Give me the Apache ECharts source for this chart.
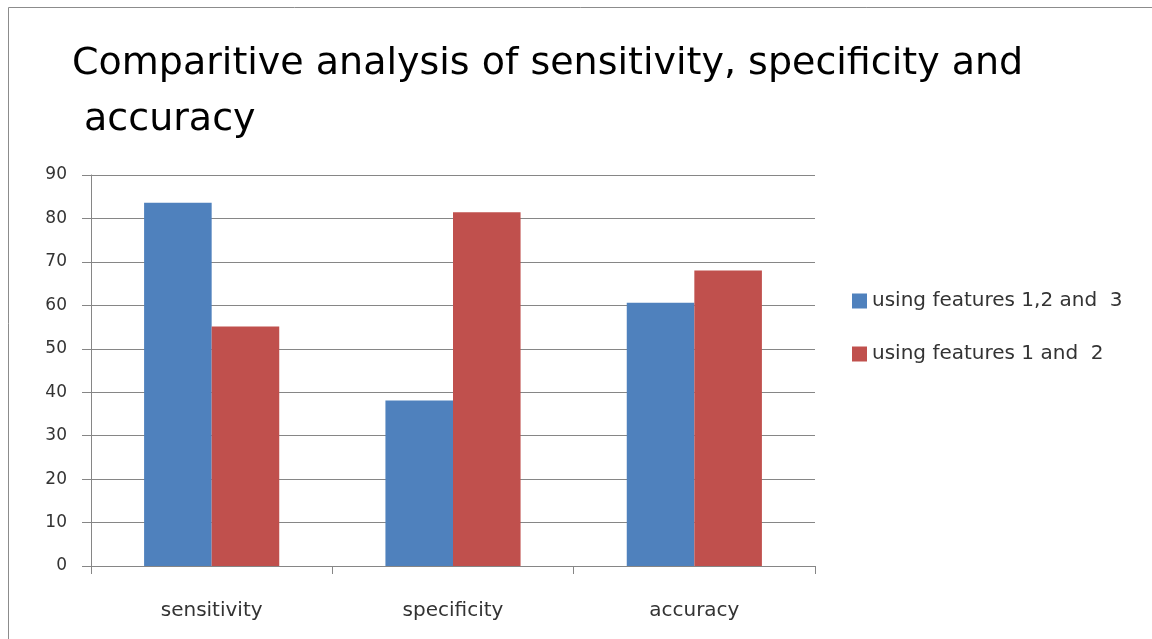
<!DOCTYPE html>
<html>
<head>
<meta charset="utf-8">
<script src="https://cdn.jsdelivr.net/npm/echarts@6/dist/echarts.min.js"></script>
<style>
  html, body { margin: 0; padding: 0; background: #fff; }
  #chart { width: 1152px; height: 639px; }
</style>
</head>
<body>
<div id="chart"></div>
<script>
// Measures compared
const categories = ['sensitivity', 'specificity', 'accuracy'];
// Results per feature set (%)
const seriesNames = ['using features 1,2 and  3', 'using features 1 and  2'];
const features123 = [83.6, 38.1, 60.6];
const features12 = [55.1, 81.4, 68.0];
const seriesColors = ['#4F81BD', '#C0504D'];

const chart = echarts.init(document.getElementById('chart'));
const fontFamily = '"DejaVu Sans", sans-serif';

chart.setOption({
  backgroundColor: '#fff',
  animation: false,
  title: {
    text: 'Comparitive analysis of sensitivity, specificity and\n accuracy',
    left: 67,
    top: 31,
    textStyle: {
      fontFamily: fontFamily,
      fontWeight: 'normal',
      fontSize: 38,
      color: '#000',
      lineHeight: 56
    }
  },
  legend: {
    orient: 'vertical',
    left: 847,
    top: 286,
    itemWidth: 15,
    itemHeight: 15,
    itemGap: 33,
    icon: 'rect',
    textStyle: { fontFamily: fontFamily, fontSize: 20, color: '#333' },
    data: seriesNames
  },
  graphic: [{
    type: 'rect',
    shape: { x: 8.5, y: 7.5, width: 1160, height: 660 },
    style: { fill: 'none', stroke: '#8c8c8c', lineWidth: 1 },
    silent: true
  }],
  grid: { left: 91, right: 337, top: 175, bottom: 73 },
  xAxis: {
    type: 'category',
    data: categories,
    axisLine: { lineStyle: { color: '#868686' } },
    axisTick: { show: true, length: 8, lineStyle: { color: '#868686' } },
    axisLabel: { margin: 35, fontFamily: fontFamily, fontSize: 20, color: '#333' }
  },
  yAxis: {
    type: 'value',
    min: 0,
    max: 90,
    interval: 10,
    axisLine: { show: true, lineStyle: { color: '#868686' } },
    axisTick: { show: true, length: 9, lineStyle: { color: '#868686' } },
    axisLabel: { margin: 24, fontFamily: fontFamily, fontSize: 17, color: '#333' },
    splitLine: { lineStyle: { color: '#868686' } }
  },
  series: [
    {
      name: seriesNames[0],
      type: 'bar',
      data: features123,
      itemStyle: { color: seriesColors[0] },
      barGap: '0%',
      barCategoryGap: '44%'
    },
    {
      name: seriesNames[1],
      type: 'bar',
      data: features12,
      itemStyle: { color: seriesColors[1] },
      barGap: '0%',
      barCategoryGap: '44%'
    }
  ]
});
</script>
</body>
</html>
